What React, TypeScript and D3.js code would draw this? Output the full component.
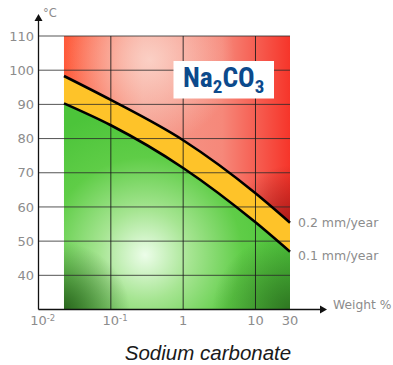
import * as d3 from "d3";

// concentration (weight %) where the iso-corrosion curves are sampled
const concentration = [0.0225, 0.1, 1, 10, 30];
// temperature (°C) for each rate
const rate02 = [98.3, 91.3, 79.5, 64, 55.4];
const rate01 = [90.3, 83.9, 71.4, 55.5, 46.9];
const rateLabels = ["0.2 mm/year", "0.1 mm/year"];

const yTicks = [40, 50, 60, 70, 80, 90, 100, 110];
const xTickValues = [0.01, 0.1, 1, 10, 30];
const xTickBase = ["10", "10", "1", "10", "30"];
const xTickExp = ["-2", "-1", "", "", ""];
const gridX = [0.1, 1, 10];

const W = 393;
const H = 365;

const x = d3.scaleLog().domain([0.01, 30]).range([38.5, 290]);
const y = d3.scaleLinear().domain([30, 110]).range([309.5, 36]);

const pts = (vals: number[]) => concentration.map((c, i) => [c, vals[i]] as [number, number]);

const greyText = "#8c8c8c";
const numFont = "'DejaVu Sans', sans-serif";

export default function App() {
  const x0 = concentration[0];
  const x1 = concentration[concentration.length - 1];

  const redArea = d3
    .area<[number, number]>()
    .x(d => x(d[0]))
    .y0(y(110))
    .y1(d => y(d[1]))
    .curve(d3.curveMonotoneX)(pts(rate02));

  const band = concentration.map((c, i) => ({ c, hi: rate02[i], lo: rate01[i] }));
  const yellowArea = d3
    .area<{ c: number; hi: number; lo: number }>()
    .x(d => x(d.c))
    .y0(d => y(d.lo))
    .y1(d => y(d.hi))
    .curve(d3.curveMonotoneX)(band);

  const greenArea = d3
    .area<[number, number]>()
    .x(d => x(d[0]))
    .y0(y(30))
    .y1(d => y(d[1]))
    .curve(d3.curveMonotoneX)(pts(rate01));

  const line = d3
    .line<[number, number]>()
    .x(d => x(d[0]))
    .y(d => y(d[1]))
    .curve(d3.curveMonotoneX);

  const left = x(x0);
  const right = x(x1);
  const top = y(110);
  const bottom = y(30);

  return (
    <svg width={W} height={H} style={{ position: "absolute", left: 0, top: 0 }}>
      <defs>
        <linearGradient id="redBase" x1="0" x2="1" y1="0" y2="0">
          <stop offset="0" stopColor="#ff5a3a" />
          <stop offset="0.35" stopColor="#f49a8a" />
          <stop offset="0.7" stopColor="#f6887a" />
          <stop offset="1" stopColor="#f6352a" />
        </linearGradient>
        <radialGradient id="redGlow" gradientUnits="userSpaceOnUse" cx={150} cy={60} r={85}>
          <stop offset="0" stopColor="#fcd9cf" stopOpacity={0.85} />
          <stop offset="1" stopColor="#fcd9cf" stopOpacity={0} />
        </radialGradient>
        <radialGradient id="redDark" gradientUnits="userSpaceOnUse" cx={292} cy={225} r={60}>
          <stop offset="0" stopColor="#9a1414" stopOpacity={0.85} />
          <stop offset="1" stopColor="#9a1414" stopOpacity={0} />
        </radialGradient>
        <radialGradient id="greenBase" gradientUnits="userSpaceOnUse" cx={145} cy={255} r={150}>
          <stop offset="0" stopColor="#ecfde9" />
          <stop offset="0.3" stopColor="#a6e592" />
          <stop offset="0.65" stopColor="#5fcd47" />
          <stop offset="1" stopColor="#4cc43a" />
        </radialGradient>
        <radialGradient id="greenDarkL" gradientUnits="userSpaceOnUse" cx={60} cy={312} r={70}>
          <stop offset="0" stopColor="#245a1a" stopOpacity={0.95} />
          <stop offset="1" stopColor="#245a1a" stopOpacity={0} />
        </radialGradient>
        <radialGradient id="greenDarkR" gradientUnits="userSpaceOnUse" cx={292} cy={312} r={80}>
          <stop offset="0" stopColor="#2a6a1e" stopOpacity={0.9} />
          <stop offset="1" stopColor="#2a6a1e" stopOpacity={0} />
        </radialGradient>
        <clipPath id="redClip">
          <path d={redArea ?? ""} />
        </clipPath>
        <clipPath id="greenClip">
          <path d={greenArea ?? ""} />
        </clipPath>
      </defs>

      {/* zones */}
      <path d={redArea ?? ""} fill="url(#redBase)" />
      <g clipPath="url(#redClip)">
        <rect x={left} y={top} width={right - left} height={bottom - top} fill="url(#redGlow)" />
        <rect x={left} y={top} width={right - left} height={bottom - top} fill="url(#redDark)" />
      </g>
      <path d={yellowArea ?? ""} fill="#fec329" />
      <path d={greenArea ?? ""} fill="url(#greenBase)" />
      <g clipPath="url(#greenClip)">
        <rect x={left} y={top} width={right - left} height={bottom - top} fill="url(#greenDarkL)" />
        <rect x={left} y={top} width={right - left} height={bottom - top} fill="url(#greenDarkR)" />
      </g>

      {/* grid */}
      {yTicks.map(t => (
        <line key={t} x1={x(0.01)} x2={right} y1={y(t)} y2={y(t)} stroke="#2a2a2a" strokeOpacity={0.8} />
      ))}
      {gridX.map(t => (
        <line key={t} x1={x(t)} x2={x(t)} y1={top} y2={bottom} stroke="#1a1a1a" strokeOpacity={0.85} />
      ))}

      {/* iso-corrosion curves */}
      <path d={line(pts(rate02)) ?? ""} fill="none" stroke="#000" strokeWidth={2.6} />
      <path d={line(pts(rate01)) ?? ""} fill="none" stroke="#000" strokeWidth={2.6} />

      {/* axes */}
      <line x1={x(0.01)} x2={x(0.01)} y1={bottom} y2={20} stroke="#111" strokeWidth={1.3} />
      <path d={`M${x(0.01)},14 L${x(0.01) - 4},21 L${x(0.01) + 4},21 Z`} fill="#111" />
      <line x1={x(0.01)} x2={321} y1={bottom} y2={bottom} stroke="#111" strokeWidth={1.3} />
      <path d={`M327,${bottom} L320,${bottom - 4} L320,${bottom + 4} Z`} fill="#111" />

      {yTicks.map(t => (
        <text key={t} x={34} y={y(t)} dy="0.36em" textAnchor="end" fontFamily={numFont} fontSize={13} fill={greyText}>
          {t}
        </text>
      ))}
      <text x={43} y={17} fontFamily={numFont} fontSize={11.5} fill={greyText}>
        °C
      </text>

      {xTickValues.map((t, i) => (
        <text key={t} x={x(t)} y={325} fontFamily={numFont} fontSize={13} fill={greyText} textAnchor={xTickExp[i] ? "start" : "middle"} dx={xTickExp[i] ? -8.3 : 0}>
          {xTickBase[i]}
          {xTickExp[i] && (
            <tspan dy={-4.5} fontSize={8.5}>
              {xTickExp[i]}
            </tspan>
          )}
        </text>
      ))}
      <text x={333} y={309} fontFamily={numFont} fontSize={12.3} fill={greyText}>
        Weight %
      </text>

      <text x={298} y={y(rate02[rate02.length - 1])} dy="0.36em" fontFamily={numFont} fontSize={12.5} fill={greyText}>
        {rateLabels[0]}
      </text>
      <text x={298} y={y(rate01[rate01.length - 1]) + 4} dy="0.36em" fontFamily={numFont} fontSize={12.5} fill={greyText}>
        {rateLabels[1]}
      </text>

      {/* formula label */}
      <rect x={173.5} y={61} width={100.5} height={37.5} fill="#fff" />
      <text x={183} y={86.7} fontFamily="'Liberation Sans Narrow', 'Roboto Condensed', sans-serif" fontWeight="bold" fontSize={27.5} fill="#0c4a8c">
        Na
        <tspan dy={6} fontSize={19}>2</tspan>
        <tspan dy={-6}>CO</tspan>
        <tspan dy={6} fontSize={19}>3</tspan>
      </text>

      <text x={208} y={360} textAnchor="middle" fontFamily="'Liberation Sans', Arial, sans-serif" fontStyle="italic" fontSize={20.5} fill="#1a1a1a">
        Sodium carbonate
      </text>
    </svg>
  );
}
